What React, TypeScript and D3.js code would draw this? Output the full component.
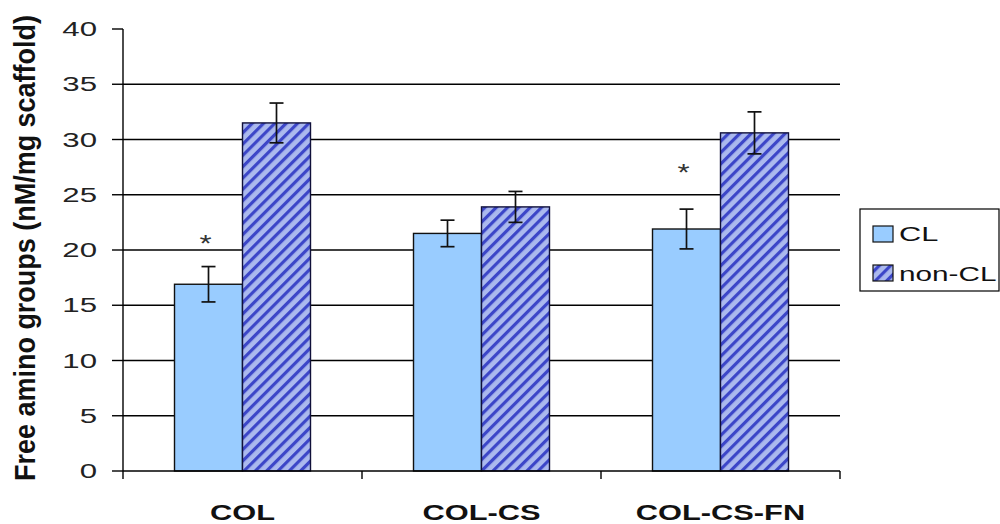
import React from "react";
import * as d3 from "d3";

const categories = ["COL", "COL-CS", "COL-CS-FN"];
const seriesNames = ["CL", "non-CL"];
const clValues = [16.9, 21.5, 21.9];
const clErrors = [1.6, 1.2, 1.8];
const nonClValues = [31.5, 23.9, 30.6];
const nonClErrors = [1.8, 1.4, 1.9];
const starValues = [20.9, null, 27.3];
const yTicks = [0, 5, 10, 15, 20, 25, 30, 35, 40];
const yTitle = "Free amino groups (nM/mg scaffold)";

const W = 1000;
const H = 524;
const plot = { left: 123, right: 840, top: 29, bottom: 471 };
const FONT = "'Liberation Sans', Arial, sans-serif";

export default function App() {
  const y = d3.scaleLinear().domain([0, 40]).range([plot.bottom, plot.top]);
  const x0 = d3
    .scaleBand<string>()
    .domain(categories)
    .range([plot.left, plot.right])
    .paddingInner(0.431)
    .paddingOuter(0.2155);
  const x1 = d3.scaleBand<string>().domain(seriesNames).range([0, x0.bandwidth()]);

  const series = [
    { name: "CL", values: clValues, errors: clErrors, fill: "#99CCFF", stroke: "#111" },
    { name: "non-CL", values: nonClValues, errors: nonClErrors, fill: "url(#hatch)", stroke: "#10103a" },
  ];
  const step = x0.step();

  return (
    <svg width={W} height={H} style={{ position: "absolute", left: 0, top: 0, background: "#fff" }}>
      <defs>
        <pattern id="hatch" patternUnits="userSpaceOnUse" width={8} height={8} patternTransform="rotate(45)">
          <rect x={0} y={0} width={8} height={8} fill="#abb9ee" />
          <rect x={0} y={0} width={3.2} height={8} fill="#3c46c8" />
        </pattern>
      </defs>
      <rect x={0} y={0} width={W} height={H} fill="#fff" />

      {/* gridlines */}
      {yTicks
        .filter((t) => t > 0 && t < 40)
        .map((t) => (
          <line key={"g" + t} x1={plot.left} x2={plot.right} y1={y(t)} y2={y(t)} stroke="#000" strokeWidth={1.3} />
        ))}

      {/* bars */}
      {series.map((s) =>
        categories.map((c, i) => {
          const bx = (x0(c) as number) + (x1(s.name) as number);
          const v = s.values[i];
          return (
            <rect
              key={s.name + c}
              x={bx}
              y={y(v)}
              width={x1.bandwidth()}
              height={y(0) - y(v)}
              fill={s.fill}
              stroke={s.stroke}
              strokeWidth={1.4}
            />
          );
        })
      )}

      {/* error bars */}
      {series.map((s) =>
        categories.map((c, i) => {
          const cx = (x0(c) as number) + (x1(s.name) as number) + x1.bandwidth() / 2;
          const hi = y(s.values[i] + s.errors[i]);
          const lo = y(s.values[i] - s.errors[i]);
          return (
            <g key={"e" + s.name + c} stroke="#111" strokeWidth={1.7}>
              <line x1={cx} x2={cx} y1={hi} y2={lo} />
              <line x1={cx - 7} x2={cx + 7} y1={hi} y2={hi} />
              <line x1={cx - 7} x2={cx + 7} y1={lo} y2={lo} />
            </g>
          );
        })
      )}

      {/* stars */}
      {categories.map((c, i) => {
        const sv = starValues[i];
        if (sv == null) return null;
        const cx = (x0(c) as number) + (x1("CL") as number) + x1.bandwidth() / 2 - 3;
        return (
          <text
            key={"s" + c}
            transform={`translate(${cx},${y(sv) + 12}) scale(1.3,1)`}
            textAnchor="middle"
            fontFamily={FONT}
            fontSize={24}
            fill="#333"
          >
            *
          </text>
        );
      })}

      {/* axes */}
      <line x1={plot.left} x2={plot.left} y1={plot.top} y2={plot.bottom + 8} stroke="#000" strokeWidth={1.4} />
      <line x1={plot.left} x2={plot.right} y1={plot.bottom} y2={plot.bottom} stroke="#000" strokeWidth={1.4} />
      {yTicks.map((t) => (
        <line key={"t" + t} x1={plot.left - 11} x2={plot.left} y1={y(t)} y2={y(t)} stroke="#000" strokeWidth={1.4} />
      ))}
      {categories.map((c, i) => (
        <line
          key={"xt" + c}
          x1={plot.left + step * (i + 1)}
          x2={plot.left + step * (i + 1)}
          y1={plot.bottom}
          y2={plot.bottom + 8}
          stroke="#000"
          strokeWidth={1.4}
        />
      ))}

      {/* y tick labels */}
      {yTicks.map((t) => (
        <text
          key={"yl" + t}
          transform={`translate(97,${y(t) + 7}) scale(1.6,1)`}
          textAnchor="end"
          fontFamily={FONT}
          fontSize={19.5}
          fill="#222"
        >
          {t}
        </text>
      ))}

      {/* x labels */}
      {categories.map((c) => (
        <text
          key={"xl" + c}
          transform={`translate(${(x0(c) as number) + x0.bandwidth() / 2},520) scale(1.4,1)`}
          textAnchor="middle"
          fontFamily={FONT}
          fontSize={22}
          fontWeight="bold"
          fill="#111"
        >
          {c}
        </text>
      ))}

      {/* y title */}
      <text
        transform={`translate(35,248) scale(1.15,1) rotate(-90)`}
        textAnchor="middle"
        fontFamily={FONT}
        fontSize={26}
        fontWeight="bold"
        fill="#111"
        textLength={466}
        lengthAdjust="spacingAndGlyphs"
      >
        {yTitle}
      </text>

      {/* legend */}
      <rect x={860} y={209} width={139} height={82} fill="#fff" stroke="#000" strokeWidth={1.2} />
      <rect x={873} y={226} width={20} height={16} fill="#99CCFF" stroke="#111" strokeWidth={1.2} />
      <rect x={873} y={265} width={20} height={16} fill="url(#hatch)" stroke="#111" strokeWidth={1.2} />
      <text transform="translate(899,241) scale(1.5,1)" fontFamily={FONT} fontSize={20.5} fill="#111">
        {seriesNames[0]}
      </text>
      <text transform="translate(899,281) scale(1.45,1)" fontFamily={FONT} fontSize={20.5} fill="#111">
        {seriesNames[1]}
      </text>
    </svg>
  );
}
